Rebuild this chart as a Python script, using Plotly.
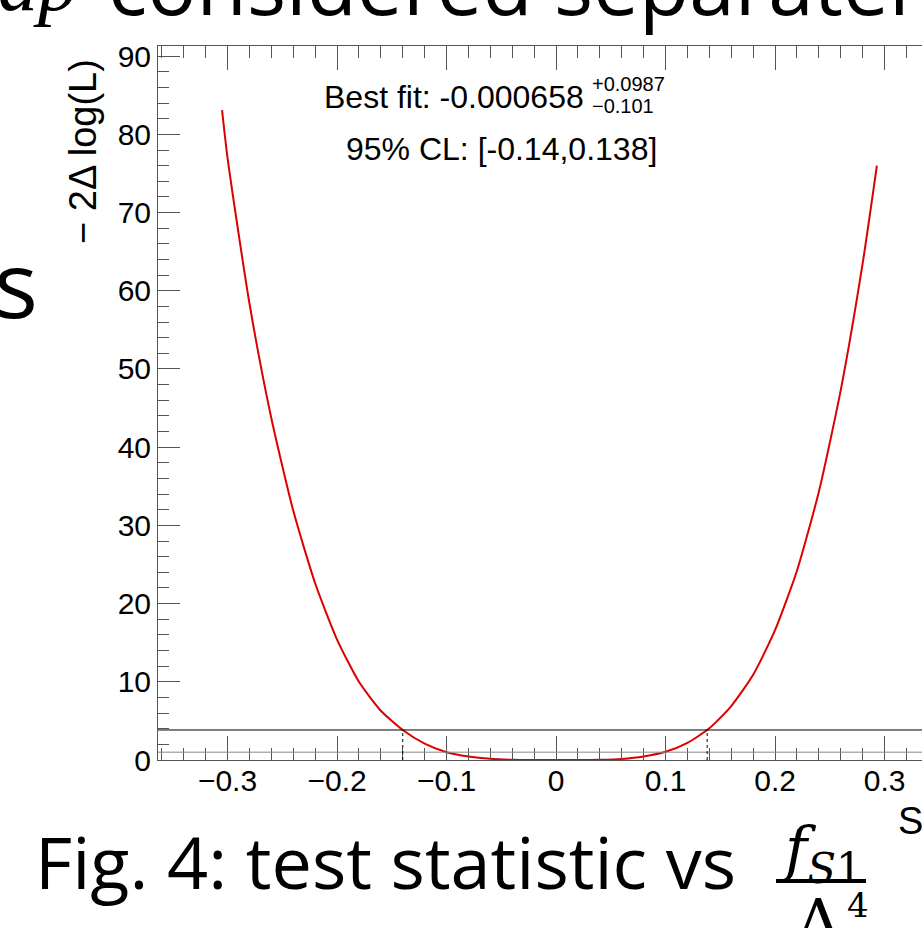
import plotly.graph_objects as go

# ---------------- data ----------------
curve_x = [-0.305, -0.30, -0.28, -0.26, -0.24, -0.22, -0.20, -0.18, -0.16, -0.14,
           -0.12, -0.10, -0.08, -0.06, -0.04, -0.02, 0.0, 0.02, 0.04, 0.06, 0.08,
           0.10, 0.12, 0.14, 0.16, 0.18, 0.20, 0.22, 0.24, 0.26, 0.28, 0.293]
curve_y = [83.1, 77.0, 58.4, 43.7, 31.9, 22.6, 15.4, 10.0, 6.3, 3.84,
           2.1, 1.0, 0.45, 0.15, 0.03, 0.0, 0.0, 0.0, 0.03, 0.14, 0.45,
           1.05, 2.2, 4.05, 6.9, 10.9, 16.6, 24.2, 34.3, 47.3, 63.5, 76.0]

cl_low, cl_high = -0.14, 0.138
level_95 = 3.84
level_1sigma = 1.0

x_tick_vals = [-0.3, -0.2, -0.1, 0, 0.1, 0.2, 0.3]
x_tick_text = ["\u22120.3", "\u22120.2", "\u22120.1", "0", "0.1", "0.2", "0.3"]
y_tick_vals = [0, 10, 20, 30, 40, 50, 60, 70, 80, 90]
y_tick_text = [str(v) for v in y_tick_vals]

x_range = [-0.3635, 0.3342]
y_range = [0, 91.3]

# ---------------- layout helpers (pixel -> paper) ----------------
W, H = 922, 928
L, R, T, B = 158, 922, 46, 760


def px(x):
    return (x - L) / (R - L)


def py(y):
    return (B - y) / (B - T)


fig = go.Figure()
fig.add_trace(go.Scatter(x=curve_x, y=curve_y, mode="lines",
                         line=dict(color="#dd0000", width=2, shape="spline", smoothing=0.6),
                         hoverinfo="skip", showlegend=False))

axis_col = "#555555"
tick_font = dict(family="Liberation Sans, Arial, sans-serif", size=30, color="black")

fig.update_xaxes(range=x_range, tickvals=x_tick_vals, ticktext=x_tick_text,
                 ticks="inside", ticklen=24, tickwidth=1, tickcolor=axis_col,
                 showline=True, linecolor=axis_col, linewidth=1, mirror="ticks",
                 showgrid=False, zeroline=False, tickfont=tick_font,
                 ticklabelstandoff=-6,
                 minor=dict(dtick=0.02, tick0=0, ticks="inside", ticklen=12,
                            tickcolor=axis_col, showgrid=False))
fig.update_yaxes(range=y_range, tickvals=y_tick_vals, ticktext=y_tick_text,
                 ticks="inside", ticklen=22, tickwidth=1, tickcolor=axis_col,
                 showline=True, linecolor=axis_col, linewidth=1, mirror=False,
                 showgrid=False, zeroline=False, tickfont=tick_font,
                 minor=dict(dtick=2, tick0=0, ticks="inside", ticklen=11,
                            tickcolor=axis_col, showgrid=False))

shapes = [
    dict(type="line", xref="paper", yref="y", x0=0, x1=1, y0=level_1sigma, y1=level_1sigma,
         line=dict(color="#888888", width=1)),
    dict(type="line", xref="paper", yref="y", x0=0, x1=1, y0=level_95, y1=level_95,
         line=dict(color="black", width=1)),
    dict(type="line", xref="x", yref="y", x0=cl_low, x1=cl_low, y0=0, y1=level_95,
         line=dict(color="black", width=1, dash="dot")),
    dict(type="line", xref="x", yref="y", x0=cl_high, x1=cl_high, y0=0, y1=level_95,
         line=dict(color="black", width=1, dash="dot")),
]

ann_font = "Liberation Sans, Arial, sans-serif"
slide_font = "Open Sans, Noto Sans, sans-serif"
math_font = "Liberation Serif, DejaVu Serif, serif"
annotations = [
    # y-axis title
    dict(text="\u2212 2\u0394 log(L)", x=px(83), y=py(152), xref="paper", yref="paper",
         textangle=-90, showarrow=False, xanchor="center", yanchor="middle",
         font=dict(family=ann_font, size=38, color="black")),
    # best-fit text
    dict(text="Best fit: -0.000658", x=px(586), y=py(97), xref="paper", yref="paper",
         showarrow=False, xanchor="right", yanchor="middle",
         font=dict(family=ann_font, size=32, color="black")),
    dict(text="+0.0987", x=px(590), y=py(84), xref="paper", yref="paper",
         showarrow=False, xanchor="left", yanchor="middle",
         font=dict(family=ann_font, size=20, color="black")),
    dict(text="\u22120.101", x=px(590), y=py(106), xref="paper", yref="paper",
         showarrow=False, xanchor="left", yanchor="middle",
         font=dict(family=ann_font, size=20, color="black")),
    dict(text="95% CL: [-0.14,0.138]", x=px(344), y=py(149), xref="paper", yref="paper",
         showarrow=False, xanchor="left", yanchor="middle",
         font=dict(family=ann_font, size=32, color="black")),
    # partial x-axis title at the right edge
    dict(text="S", x=px(896), y=py(821), xref="paper", yref="paper",
         showarrow=False, xanchor="left", yanchor="middle",
         font=dict(family=ann_font, size=38, color="black")),
    # slide text (surrounding the chart image)
    dict(text="<i>ap</i>", x=px(-4), y=py(-17), xref="paper", yref="paper",
         showarrow=False, xanchor="left", yanchor="middle",
         font=dict(family=math_font, size=80, color="black")),
    dict(text="considered separatel", x=px(106), y=py(-17), xref="paper", yref="paper",
         showarrow=False, xanchor="left", yanchor="middle",
         font=dict(family=slide_font, size=82, color="black")),
    dict(text="s", x=px(40), y=py(282), xref="paper", yref="paper",
         showarrow=False, xanchor="right", yanchor="middle",
         font=dict(family=slide_font, size=92, color="black")),
    dict(text="Fig. 4: test statistic vs", x=px(33), y=py(861), xref="paper", yref="paper",
         showarrow=False, xanchor="left", yanchor="middle",
         font=dict(family=slide_font, size=72, color="black")),
    dict(text="<i>f</i><sub><i>S</i>1</sub>", x=px(822), y=py(853), xref="paper", yref="paper",
         showarrow=False, xanchor="center", yanchor="middle",
         font=dict(family="DejaVu Serif, serif", size=60, color="black")),
    dict(text="\u039b", x=px(818), y=py(921), xref="paper", yref="paper",
         showarrow=False, xanchor="center", yanchor="middle",
         font=dict(family="DejaVu Serif, serif", size=62, color="black")),
    dict(text="4", x=px(858), y=py(905), xref="paper", yref="paper",
         showarrow=False, xanchor="center", yanchor="middle",
         font=dict(family="DejaVu Serif, serif", size=34, color="black")),
]
shapes.append(dict(type="line", xref="paper", yref="paper", x0=px(776), x1=px(866),
                   y0=py(881), y1=py(881), line=dict(color="black", width=4)))

fig.update_layout(width=W, height=H, margin=dict(l=L, r=W - R, t=T, b=H - B),
                  paper_bgcolor="white", plot_bgcolor="white",
                  shapes=shapes, annotations=annotations, showlegend=False)

fig.write_html("out.html", config={"displayModeBar": False},
               post_script="document.body.style.margin='0';")
